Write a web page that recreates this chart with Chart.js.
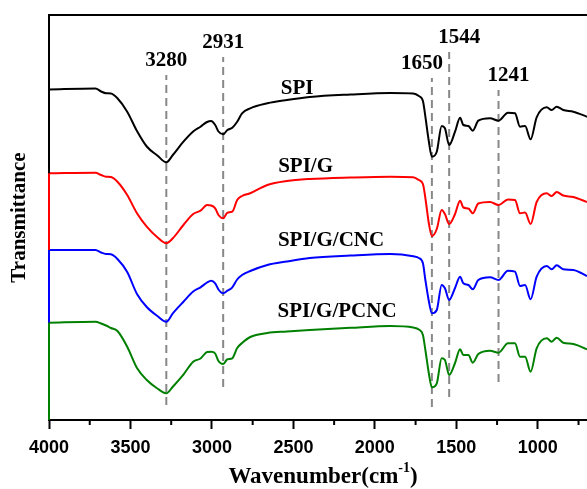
<!DOCTYPE html>
<html>
<head>
<meta charset="utf-8">
<script src="https://cdn.jsdelivr.net/npm/chart.js@4"></script>
<style>
html,body{margin:0;padding:0;background:#ffffff;}
#wrap{width:587px;height:489px;}
</style>
</head>
<body>
<div id="wrap"><canvas id="c" width="587" height="489"></canvas></div>
<script>
// ---- data (y in arbitrary transmittance units) ----
const wavenumbers = [4000, 3715, 3680, 3650, 3620, 3580, 3520, 3460, 3400, 3335,
  3280, 3240, 3175, 3115, 3070, 3030, 3005, 2980, 2960, 2931,
  2905, 2875, 2845, 2815, 2765, 2660, 2540, 2400, 2150, 1905,
  1765, 1730, 1705, 1690, 1670, 1650, 1620, 1590, 1570, 1544,
  1508, 1477, 1457, 1426, 1399, 1365, 1293, 1241, 1183, 1140,
  1109, 1078, 1044, 1007, 945, 915, 884, 844, 782, 698];

const spi = [333.5, 334.5, 331.5, 329.7, 329.5, 324.7, 311.3, 292, 276.5, 267.5,
  260.7, 268, 281.3, 291.5, 296.3, 301, 302, 298, 291.5, 288.7,
  293, 295.3, 301.3, 309.7, 314.7, 319.7, 323, 326, 328.5, 330,
  329.5, 327, 322, 306.3, 283, 266.3, 271.3, 297, 294.7, 278,
  291.3, 305.3, 298, 297, 292.3, 302.3, 304.7, 302.3, 310.3, 309.7,
  296.3, 297, 283.7, 305.7, 315.7, 313, 316.3, 313, 311.3, 306.3];

const spiG = [249.7, 250.3, 248, 246.3, 246, 241.3, 228, 209.7, 196.3, 185.7,
  179.7, 184.7, 198, 209, 212.3, 218, 217.5, 214.7, 208, 204.7,
  210.3, 211.3, 223, 227, 229.7, 238, 242, 244, 245.5, 246.3,
  245.7, 243, 239, 225, 201, 187, 194, 213, 209, 199,
  209, 222.3, 215.5, 214.5, 209.7, 219.5, 221, 218, 223.5, 223,
  209.7, 210.5, 199, 221, 229.7, 227, 231, 227.5, 226, 221];

const spiGCnc = [173, 173, 170.5, 169, 168.7, 164, 151, 129, 116, 107,
  101.3, 109.7, 121.3, 131.5, 135.7, 140.5, 142.3, 139.7, 133.5, 129.7,
  132.3, 135.7, 143.5, 148, 152, 158, 161.5, 165, 167.5, 169,
  166.7, 165, 159.7, 143, 123, 109.7, 113, 138, 134.7, 123,
  135, 146.3, 139.7, 138, 133.7, 143, 145.7, 143, 152.3, 151.3,
  137, 138, 123.7, 146.3, 157, 153.7, 157.7, 153.7, 153, 147];

const spiGPcnc = [100.3, 101.3, 99.5, 97.5, 95, 92, 76.3, 55, 43, 34.5,
  29.7, 36.3, 48.4, 61.3, 64.5, 71, 71.3, 69.5, 62, 59,
  63.7, 64.7, 75, 80, 86, 90, 91.5, 93, 95.2, 97,
  95.5, 93.5, 88, 73, 51, 35.7, 39.7, 64.7, 63, 48,
  60, 73.7, 68, 68, 60.3, 69, 72.3, 70.3, 79.7, 79.7,
  66.3, 66.3, 51.3, 74.7, 84.7, 81.3, 85.3, 80.3, 79, 73.7];

const seriesNames = ['SPI', 'SPI/G', 'SPI/G/CNC', 'SPI/G/PCNC'];
const seriesColors = ['#000000', '#ff0000', '#0000ff', '#008000'];
const seriesLabelWn = [2477, 2425, 2269, 2232];
const seriesLabelY = [334, 256.5, 182.5, 111.5];

const peakWavenumbers = [3280, 2931, 1650, 1544, 1241];
const peakLineTop = [348, 366, 345, 371, 333];
const peakLineBottom = [18, 36, 16, 26, 41];
const peakLabelShift = [0, 0, -10, 10, 10]; // style: label offset in px

const xTickValues = [4000, 3500, 3000, 2500, 2000, 1500, 1000];
const xMin = 698, xMax = 4000;

// ---- build datasets ----
const seriesValues = [spi, spiG, spiGCnc, spiGPcnc];
const curveSets = seriesValues.map((vals, i) => ({
  label: seriesNames[i],
  data: wavenumbers.map((w, k) => ({x: w, y: vals[k]})),
  borderColor: seriesColors[i],
  borderWidth: 2,
  pointRadius: 0,
  fill: false,
  cubicInterpolationMode: 'monotone'
}));
const dashSets = peakWavenumbers.map((w, i) => ({
  label: 'peak ' + w,
  data: [{x: w, y: peakLineBottom[i]}, {x: w, y: peakLineTop[i]}],
  borderColor: '#888888',
  borderWidth: 2,
  borderDash: [8, 5],
  pointRadius: 0,
  fill: false
}));

const serif = '"Liberation Serif", "Times New Roman", serif';

const deco = {
  id: 'deco',
  afterDatasetsDraw(chart) {
    const {ctx, chartArea, scales: {x, y}} = chart;
    ctx.save();
    // coloured segments of the left edge (each curve drops to the next one's start)
    const starts = seriesValues.map(v => v[0]);
    for (let i = 0; i < starts.length; i++) {
      const y1 = y.getPixelForValue(starts[i]);
      const y2 = i + 1 < starts.length ? y.getPixelForValue(starts[i + 1]) : chartArea.bottom;
      ctx.strokeStyle = seriesColors[i];
      ctx.lineWidth = 2;
      ctx.beginPath();
      ctx.moveTo(chartArea.left, y1);
      ctx.lineTo(chartArea.left, y2);
      ctx.stroke();
    }
    // top frame line
    ctx.strokeStyle = '#000';
    ctx.lineWidth = 2;
    ctx.beginPath();
    ctx.moveTo(chartArea.left - 1, chartArea.top);
    ctx.lineTo(chartArea.right, chartArea.top);
    ctx.stroke();
    // minor ticks
    ctx.lineWidth = 2;
    xTickValues.forEach(t => {
      const v = t - 250;
      if (v < xMin) return;
      const px = x.getPixelForValue(v);
      ctx.beginPath();
      ctx.moveTo(px, chartArea.bottom);
      ctx.lineTo(px, chartArea.bottom + 5);
      ctx.stroke();
    });
    // peak labels
    ctx.fillStyle = '#000';
    ctx.textAlign = 'center';
    ctx.textBaseline = 'middle';
    ctx.font = 'bold 21px ' + serif;
    peakWavenumbers.forEach((w, i) => {
      ctx.fillText(String(w), x.getPixelForValue(w) + peakLabelShift[i], y.getPixelForValue(peakLineTop[i]) - 14);
    });
    // series labels
    seriesNames.forEach((n, i) => {
      ctx.fillText(n, x.getPixelForValue(seriesLabelWn[i]), y.getPixelForValue(seriesLabelY[i]));
    });
    // x axis title with superscript
    const main = 'bold 23px ' + serif, sup = 'bold 14px ' + serif;
    ctx.textAlign = 'left';
    ctx.textBaseline = 'alphabetic';
    ctx.font = main;
    const w1 = ctx.measureText('Wavenumber(cm').width;
    const w3 = ctx.measureText(')').width;
    ctx.font = sup;
    const w2 = ctx.measureText('-1').width;
    let tx = (chartArea.left + chartArea.right) / 2 + 5 - (w1 + w2 + w3) / 2;
    const ty = chart.height - 6;
    ctx.font = main;
    ctx.fillText('Wavenumber(cm', tx, ty);
    tx += w1;
    ctx.font = sup;
    ctx.fillText('-1', tx, ty - 11);
    tx += w2;
    ctx.font = main;
    ctx.fillText(')', tx, ty);
    ctx.restore();
  }
};

new Chart(document.getElementById('c'), {
  type: 'line',
  data: {datasets: [...curveSets, ...dashSets]},
  options: {
    responsive: false,
    animation: false,
    devicePixelRatio: 1,
    layout: {padding: {top: 15, right: 0, bottom: 0, left: 0}},
    plugins: {legend: {display: false}, tooltip: {enabled: false}},
    scales: {
      x: {
        type: 'linear',
        reverse: true,
        min: xMin,
        max: xMax,
        afterBuildTicks: s => { s.ticks = xTickValues.map(v => ({value: v})); },
        afterFit: s => { s.height = 69; },
        grid: {display: true, drawOnChartArea: false, drawTicks: true, tickLength: 9, tickWidth: 2, tickColor: '#000', color: '#000'},
        border: {display: true, color: '#000', width: 2},
        ticks: {
          autoSkip: false, maxRotation: 0, minRotation: 0, padding: 8, color: '#000',
          font: {family: '"Liberation Sans", Arial, sans-serif', size: 18, weight: 'bold'},
          callback: v => String(v)
        }
      },
      y: {
        type: 'linear',
        min: 3,
        max: 408,
        afterFit: s => { s.width = 49; },
        grid: {display: false},
        border: {display: true, color: '#000', width: 2},
        ticks: {display: false},
        title: {
          display: true, text: 'Transmittance', color: '#000',
          font: {family: serif, size: 21, weight: 'bold'},
          padding: {top: 7, bottom: 0}
        }
      }
    }
  },
  plugins: [deco]
});
</script>
</body>
</html>
